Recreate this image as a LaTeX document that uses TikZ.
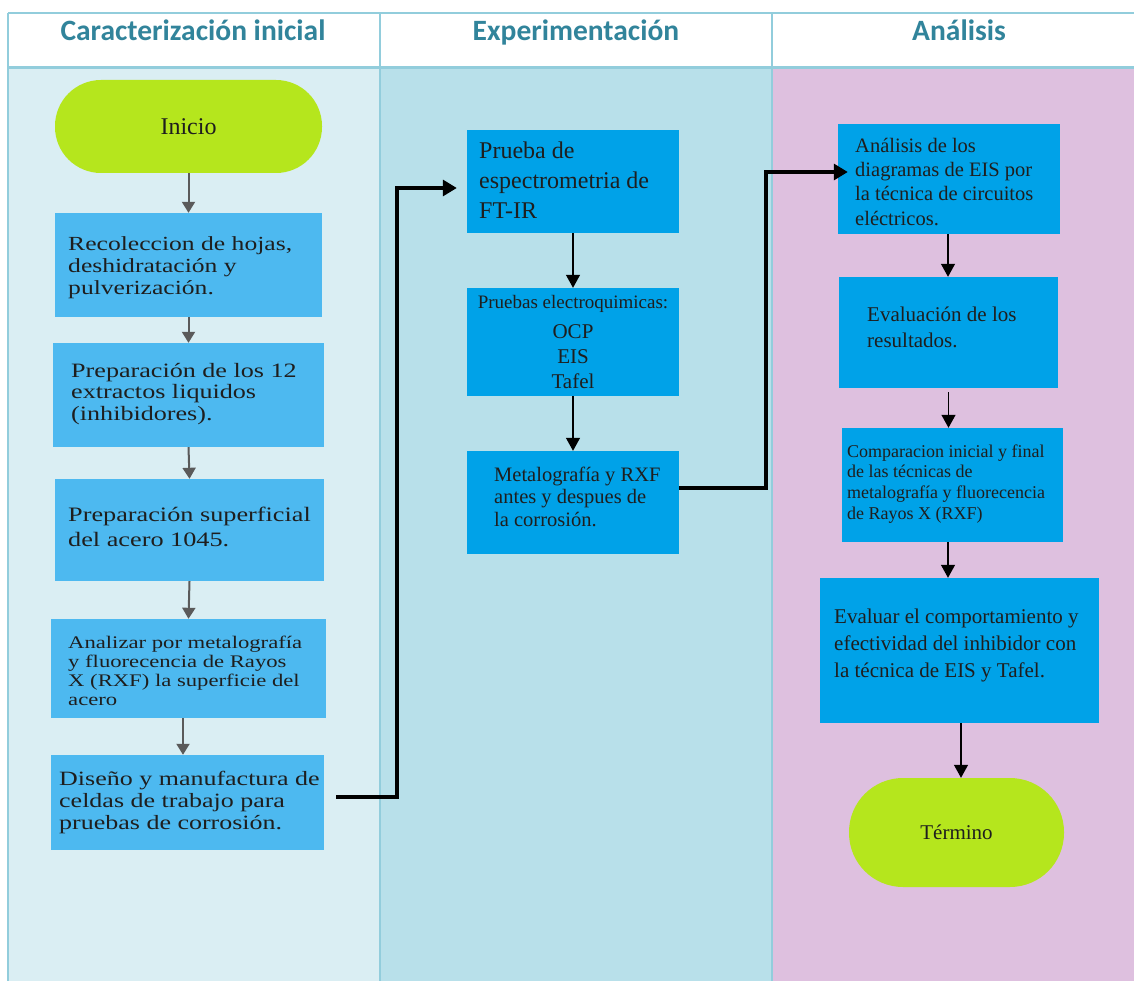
\documentclass[tikz,border=0pt]{standalone}
\usepackage{fontspec}
\setmainfont{Liberation Serif}
\newfontfamily\widefont[FakeStretch=1.28]{Liberation Serif}
\newfontfamily\hdrfont{Carlito}
\usetikzlibrary{arrows.meta}
\definecolor{colA}{HTML}{DAEEF3}
\definecolor{colB}{HTML}{B8E0EA}
\definecolor{colC}{HTML}{DEC0DF}
\definecolor{tblline}{HTML}{92CDDC}
\definecolor{hdrtext}{HTML}{31849B}
\definecolor{lboxfill}{HTML}{4DB9F0}
\definecolor{dboxfill}{HTML}{00A2E8}
\definecolor{limefill}{HTML}{B5E61D}
\definecolor{graya}{HTML}{5A5A5A}
\definecolor{txt}{HTML}{1E1E1E}
\tikzset{
  tbl/.style={draw=tblline, line width=2.5pt},
  hdr/.style={font=\hdrfont\bfseries\fontsize{29.5}{34}\selectfont, text=hdrtext, anchor=base},
  lbox/.style={rectangle, fill=lboxfill, draw=none, inner sep=0pt},
  dbox/.style={rectangle, fill=dboxfill, draw=none, inner sep=0pt},
  stadium/.style={rectangle, fill=limefill, draw=none, inner sep=0pt, text=txt},
  btxt/.style={anchor=north west, inner sep=0pt, align=left, text=txt},
  garrow/.style={draw=graya, line width=2pt, -{Triangle[width=13pt,length=11pt]}},
  barrow/.style={draw=black, line width=1.3pt, -{Triangle[width=14pt,length=13pt]}},
  conn/.style={draw=black, line width=3.2pt, -{Triangle[width=16pt,length=14pt]}},
}
\begin{document}
\begin{tikzpicture}[x=1pt,y=-1pt]
\useasboundingbox (0,0) rectangle (1134,981);
\fill[white] (0,0) rectangle (1134,981);
% columns
\fill[colA] (8,68) rectangle (380,981);
\fill[colB] (380,68) rectangle (772,981);
\fill[colC] (772,68) rectangle (1134,981);
% table lines
\draw[tbl] (8,13) -- (1134,13);
\draw[tbl, line width=3pt] (8,68) -- (1134,68);
\draw[tbl] (8,13) -- (8,981);
\draw[tbl] (380,13) -- (380,981);
\draw[tbl] (772,13) -- (772,981);
% headers
\node[hdr] (h1) at (193,41) {Caracterización inicial};
\node[hdr] (h2) at (576,41) {Experimentación};
\node[hdr] (h3) at (959,41) {Análisis};

% left column
\node[stadium, minimum width=267, minimum height=93, rounded corners=46,
      font=\fontsize{24}{28}\selectfont] (ini) at (188.5,126.5) {Inicio};
\node[lbox, minimum width=267, minimum height=104] (b1) at (188.5,265) {};
\node[lbox, minimum width=271, minimum height=104] (b2) at (188.5,395) {};
\node[lbox, minimum width=269, minimum height=102] (b3) at (189.5,530) {};
\node[lbox, minimum width=275, minimum height=99] (b4) at (188.5,668.5) {};
\node[lbox, minimum width=273, minimum height=95] (b5) at (187.5,802.5) {};

\node[btxt, font=\widefont\fontsize{20}{22}\selectfont] (t1) at (68,230)
  {\rule{0pt}{1em}Recoleccion de hojas,\\ deshidratación y\\ pulverización.};
\node[btxt, font=\widefont\fontsize{20.4}{21.7}\selectfont] (t2) at (71,356.6)
  {\rule{0pt}{1em}Preparación de los 12\\ extractos liquidos\\ (inhibidores).};
\node[btxt, font=\widefont\fontsize{20.5}{25}\selectfont] (t3) at (68,500.5)
  {\rule{0pt}{1em}Preparación superficial\\ del acero 1045.};
\node[btxt, font=\widefont\fontsize{17.7}{19.2}\selectfont] (t4) at (68,630.3)
  {\rule{0pt}{1em}Analizar por metalografía\\ y fluorecencia de Rayos\\ X (RXF) la superficie del\\ acero};
\node[btxt, font=\widefont\fontsize{20.3}{22}\selectfont] (t5) at (59,764.7)
  {\rule{0pt}{1em}Diseño y manufactura de\\ celdas de trabajo para\\ pruebas de corrosión.};

\draw[garrow] (ini.south) -- (b1.north);
\draw[garrow] (b1.south) -- (b2.north);
\draw[garrow] (b2.south) -- (b3.north);
\draw[garrow] (b3.south) -- (b4.north);
\draw[garrow] ([xshift=-5.5]b4.south) -- ([xshift=-5.5]b4.south |- b5.north);

% middle column
\node[dbox, minimum width=212, minimum height=103] (ft) at (573,181.5) {};
\node[dbox, minimum width=212, minimum height=108] (pe) at (573,342) {};
\node[dbox, minimum width=212, minimum height=103] (me) at (573,502.5) {};

\node[btxt, font=\fontsize{24}{30}\selectfont] (tft) at (479,134)
  {\rule{0pt}{1em}Prueba de\\ espectrometria de\\ FT-IR};
\node[btxt, anchor=north, align=center, font=\fontsize{19}{25}\selectfont] (tpe) at (573,289)
  {\rule{0pt}{1em}Pruebas electroquimicas:\\[5pt] {\fontsize{21}{25}\selectfont OCP}\\ {\fontsize{21}{25}\selectfont EIS}\\ {\fontsize{21}{25}\selectfont Tafel}};
\node[btxt, font=\fontsize{20.5}{22.5}\selectfont] (tme) at (494,460.5)
  {\rule{0pt}{1em}Metalografía y RXF\\ antes y despues de\\ la corrosión.};

\draw[barrow] (ft.south) -- (pe.north);
\draw[barrow] (pe.south) -- (me.north);

% right column
\node[dbox, minimum width=222, minimum height=110] (ra) at (949,179) {};
\node[dbox, minimum width=219, minimum height=111] (rb) at (948.5,332.5) {};
\node[dbox, minimum width=221, minimum height=114] (rc) at (952.5,485) {};
\node[dbox, minimum width=279, minimum height=145] (rd) at (959.5,650.5) {};
\node[stadium, minimum width=215, minimum height=109, rounded corners=54,
      font=\fontsize{21}{25}\selectfont] (fin) at (956.5,832.5) {Término};

\node[btxt, font=\fontsize{20.5}{24.3}\selectfont] (tra) at (855,131.5)
  {\rule{0pt}{1em}Análisis de los\\ diagramas de EIS por\\ la técnica de circuitos\\ eléctricos.};
\node[btxt, font=\fontsize{21}{26.5}\selectfont] (trb) at (867,300)
  {\rule{0pt}{1em}Evaluación de los\\ resultados.};
\node[btxt, font=\fontsize{18}{20.7}\selectfont] (trc) at (847,439)
  {\rule{0pt}{1em}Comparacion inicial y final\\ de las técnicas de\\ metalografía y fluorecencia\\ de Rayos X (RXF)};
\node[btxt, font=\fontsize{21}{27}\selectfont] (trd) at (834,602)
  {\rule{0pt}{1em}Evaluar el comportamiento y\\ efectividad del inhibidor con\\ la técnica de EIS y Tafel.};

\draw[barrow] ([xshift=-1]ra.south) -- ([xshift=-1]ra.south |- rb.north);
\draw[barrow] ([yshift=-4]rb.south) -- (rb.south |- rc.north);
\draw[barrow] ([xshift=-4.5]rc.south) -- ([xshift=-4.5]rc.south |- rd.north);
\draw[barrow] ([xshift=1.5]rd.south) -- ([xshift=1.5]rd.south |- fin.north);

% cross-column connectors
\coordinate (s1) at (336,797);
\draw[conn] (s1) -- (397,797) |- ([xshift=-10,yshift=-6.5]ft.west);
\draw[conn] ([yshift=14.5]me.east) -- (766,488) |- ([xshift=10,yshift=7]ra.west);
\end{tikzpicture}
\end{document}
